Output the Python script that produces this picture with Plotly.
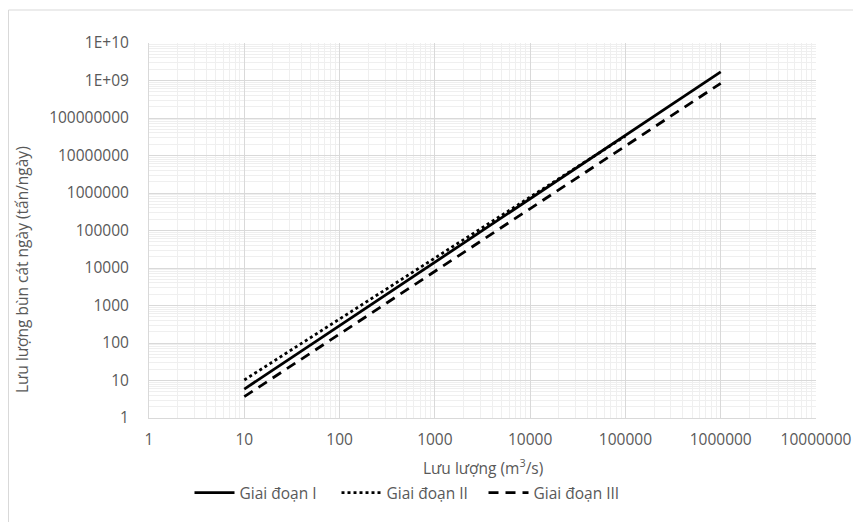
import plotly.graph_objects as go

# Discharge (m3/s)
q_1 = [10, 100, 1000, 10000, 100000, 1000000]
q_2 = [10, 100, 1000, 10000, 100000]
q_3 = [10, 100, 1000, 10000, 100000, 1000000]

# Daily sediment discharge (tonnes/day)
s_1 = [5.9, 290, 14000, 700000, 34000000, 1700000000]
s_2 = [10.3, 440, 19000, 800000, 33000000]
s_3 = [3.7, 175, 8000, 380000, 18000000, 840000000]

names = ["Giai đoạn I", "Giai đoạn II", "Giai đoạn III"]

x_tickvals = [1, 10, 100, 1000, 10000, 100000, 1000000, 10000000]
x_ticktext = ["1", "10", "100", "1000", "10000", "100000", "1000000", "10000000"]
y_tickvals = [1, 10, 100, 1000, 10000, 100000, 1000000, 10000000, 100000000, 1e9, 1e10]
y_ticktext = ["1", "10", "100", "1000", "10000", "100000", "1000000", "10000000",
              "100000000", "1E+09", "1E+10"]

FONT = "'Open Sans', sans-serif"
GREY = "#595959"
FS = 15.5

fig = go.Figure()
fig.add_trace(go.Scatter(x=q_1, y=s_1, mode="lines", name=names[0],
                         line=dict(color="black", width=2.8, dash="solid")))
fig.add_trace(go.Scatter(x=q_2, y=s_2, mode="lines", name=names[1],
                         line=dict(color="black", width=2.8, dash="dot")))
fig.add_trace(go.Scatter(x=q_3, y=s_3, mode="lines", name=names[2],
                         line=dict(color="black", width=2.8, dash="10px,7px")))

# page body has an 8px margin, so the figure is drawn 8px smaller and offset
W, H = 853, 514
L, R, T, B = 141, 45, 35, 104
pw, ph = W - L - R, H - T - B

def px(x):
    return (x - L) / pw

def py(y):
    return (H - B - y) / ph

fig.update_layout(
    width=W, height=H,
    margin=dict(l=L, r=R, t=T, b=B, autoexpand=False),
    paper_bgcolor="white", plot_bgcolor="white",
    font=dict(family=FONT, size=FS, color=GREY),
    showlegend=True,
    legend=dict(orientation="h", x=px(402), xanchor="center", y=py(485), yanchor="middle",
                font=dict(family=FONT, size=FS, color=GREY), itemwidth=40,
                entrywidth=92, entrywidthmode="pixels",
                traceorder="normal"),
    xaxis=dict(type="log", range=[0, 7], tickvals=x_tickvals, ticktext=x_ticktext,
               automargin=False,
               showgrid=True, gridcolor="#d9d9d9", gridwidth=1,
               minor=dict(showgrid=True, gridcolor="#efefef", gridwidth=1, dtick="D1"),
               zeroline=False, showline=True, linecolor="#d9d9d9", ticks="",
               ticklabelstandoff=7),
    yaxis=dict(type="log", range=[0, 10], tickvals=y_tickvals, ticktext=y_ticktext,
               automargin=False,
               showgrid=True, gridcolor="#d9d9d9", gridwidth=1,
               minor=dict(showgrid=True, gridcolor="#efefef", gridwidth=1, dtick="D1"),
               zeroline=False, showline=True, linecolor="#d9d9d9", ticks="",
               ticklabelstandoff=16),
    annotations=[
        dict(text="Lưu lượng bùn cát ngày (tấn/ngày)", textangle=-90,
             xref="paper", yref="paper", x=px(14), y=py(262),
             xanchor="center", yanchor="middle", showarrow=False,
             font=dict(family=FONT, size=FS, color=GREY)),
        dict(text="Lưu lượng (m<sup>3</sup>/s)",
             xref="paper", yref="paper", x=0.5, y=py(459),
             xanchor="center", yanchor="middle", showarrow=False,
             font=dict(family=FONT, size=FS, color=GREY)),
    ],
    shapes=[dict(type="rect", xref="paper", yref="paper",
                 x0=px(0.5), x1=px(870), y0=py(530), y1=py(2),
                 line=dict(color="#d9d9d9", width=1), layer="below")],
)

fig.write_html("out.html")
